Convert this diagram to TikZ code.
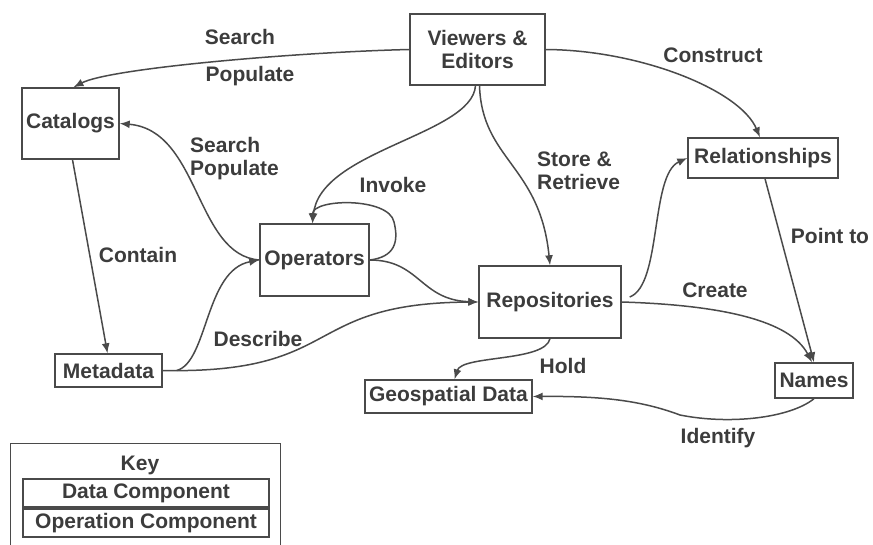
\documentclass[tikz,border=0pt]{standalone}
\usepackage{fontspec}
\setmainfont{Liberation Sans}
\usetikzlibrary{arrows.meta}
\definecolor{ink}{HTML}{3C3C3C}
\definecolor{wire}{HTML}{4A4A4A}

\begin{document}
\begin{tikzpicture}[x=1pt,y=-1pt,
  every node/.style={font=\fontsize{21}{23}\selectfont\bfseries, text=ink},
  comp/.style={draw=wire, line width=1.4pt, inner sep=0pt, align=center},
  lbl/.style={inner sep=0pt},
  flow/.style={draw=wire, line width=1.5pt, -{Latex[length=10pt,width=8pt]}},
]
\useasboundingbox (0,0) rectangle (873,544);

% components
\node[comp, minimum width=135pt, minimum height=71pt] (viewers) at (477.5,49.5) {Viewers \&\\Editors};
\node[comp, minimum width=97pt, minimum height=71pt] (catalogs) at (70.5,123.5) {Catalogs};
\node[comp, minimum width=109pt, minimum height=72pt] (operators) at (314.5,260) {Operators};
\node[comp, minimum width=142pt, minimum height=72pt] (repos) at (550,302) {Repositories};
\node[comp, minimum width=150pt, minimum height=40pt] (relations) at (763,158) {Relationships};
\node[comp, minimum width=107pt, minimum height=33pt] (metadata) at (108.5,370.5) {Metadata};
\node[comp, minimum width=167pt, minimum height=33pt] (geo) at (448.5,396.5) {Geospatial Data};
\node[comp, minimum width=78pt, minimum height=35pt] (names) at (814,380.5) {Names};

% key
\node[comp, minimum width=270pt, minimum height=105pt, anchor=north west] (keybox) at (10,443) {};
\node[lbl] (keytitle) at (140,465) {Key};
\node[comp, minimum width=246pt, minimum height=28pt] (datakey) at (146,493) {Data Component};
\node[comp, minimum width=246pt, minimum height=28pt] (opkey) at (146,523) {Operation Component};

% connectors
\draw[flow] (viewers.west) .. controls (300,52) and (110,68) .. ([xshift=3pt]catalogs.north);
\draw[flow] (viewers.east) .. controls (640,50) and (740,90) .. ([xshift=-3pt]relations.north);
\draw[flow] ([xshift=-2pt]viewers.south) .. controls (472,135) and (320,150) .. ([xshift=-2pt]operators.north);
\draw[flow] (operators.east) .. controls +(25,-3) and +(5,20) .. (394,222)
            .. controls +(-5,-25) and +(0,-25) .. ([xshift=-2pt]operators.north);
\draw[flow] ([xshift=2pt]viewers.south) .. controls (482,160) and (540,165) .. (repos.north);
\draw[flow] (operators.west) .. controls (195,255) and (200,130) .. (catalogs.east);
\draw[flow] ([xshift=2pt]catalogs.south) -- ([xshift=-1pt]metadata.north);
\draw[flow] ([xshift=14pt]metadata.east) .. controls (208,362) and (205,270) .. (operators.west);
\draw[flow] (metadata.east) .. controls (345,374) and (300,303) .. (repos.west);
\draw[flow] (operators.east) .. controls (420,260) and (420,300) .. (repos.west);
\draw[flow] ([shift={(8pt,5pt)}]repos.east) .. controls (662,285) and (650,175) .. (relations.west);
\draw[flow] (repos.east) .. controls (720,305) and (790,320) .. ([xshift=-2pt]names.north);
\draw[flow] ([xshift=2pt]relations.south) -- ([xshift=0pt]names.north);
\draw[flow] (repos.south) .. controls (545,362) and (462,355) .. ([xshift=6pt]geo.north);
\draw[flow] (names.south) .. controls (790,418) and (730,425) .. (680,415)
            .. controls (640,400) and (600,396) .. (geo.east);

% connector labels
\node[lbl] (l-search1) at (240,37) {Search};
\node[lbl] (l-populate1) at (250,76) {Populate};
\node[lbl, align=left, anchor=west] (l-searchpop) at (190,159) {Search\\Populate};
\node[lbl] (l-invoke) at (393,185) {Invoke};
\node[lbl] (l-construct) at (713,55) {Construct};
\node[lbl, align=left, anchor=west] (l-store) at (537,171) {Store \&\\Retrieve};
\node[lbl] (l-contain) at (138,255) {Contain};
\node[lbl] (l-describe) at (258,339) {Describe};
\node[lbl] (l-point) at (830,236) {Point to};
\node[lbl] (l-create) at (715,290) {Create};
\node[lbl] (l-hold) at (563,366) {Hold};
\node[lbl] (l-identify) at (718,438) {Identify};
\end{tikzpicture}
\end{document}
